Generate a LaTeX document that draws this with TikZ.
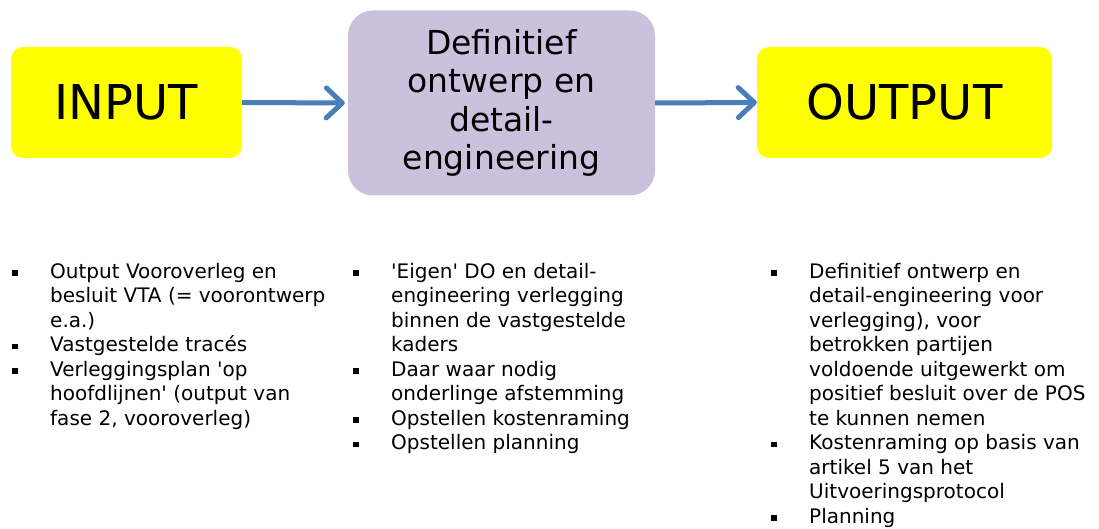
\documentclass[tikz,border=0pt]{standalone}
\usepackage{fontspec}
\newfontfamily\dv{DejaVu Sans}
\usetikzlibrary{arrows.meta}
\definecolor{boxyellow}{RGB}{255,255,0}
\definecolor{boxlav}{RGB}{204,193,220}
\definecolor{arrowblue}{RGB}{74,126,187}
\newcommand\bulitem{\makebox[38pt][l]{\rule[2.5pt]{5.5pt}{5.5pt}}}
\newcommand\indt{\hspace*{38pt}}
\begin{document}
\begin{tikzpicture}[x=1pt,y=-1pt,
  ybox/.style={fill=boxyellow, rounded corners=12pt, minimum width=231pt, minimum height=111pt, inner sep=0pt, font=\dv\fontsize{48}{56}\selectfont},
  pbox/.style={fill=boxlav, rounded corners=25pt, minimum width=307pt, minimum height=185pt, inner sep=0pt, align=center, font=\dv\fontsize{33}{38.5}\selectfont},
  flow/.style={draw=arrowblue, line width=5pt, -{Straight Barb[length=16pt,width=30pt,line cap=round,line join=round]}},
  blist/.style={anchor=base west, align=left, inner sep=0pt, font=\dv\fontsize{20}{24.5}\selectfont}
]
\useasboundingbox (0,0) rectangle (1099,529);
\node[ybox] (in) at (126.5,102.5) {INPUT};
\node[pbox] (def) at (501.5,103) {Definitief\\ontwerp en\\detail-\\engineering};
\node[ybox, minimum width=295pt] (out) at (904.5,102.5) {OUTPUT};
\draw[flow, shorten >=3pt] (in.east) -- (def.west);
\draw[flow] (def.east) -- (out.west);

\node[blist] (l) at (12,425) {\bulitem Output Vooroverleg en\\
\indt besluit VTA (= voorontwerp\\
\indt e.a.)\\
\bulitem Vastgestelde tracés\\
\bulitem Verleggingsplan 'op\\
\indt hoofdlijnen' (output van\\
\indt fase 2, vooroverleg)};

\node[blist] (m) at (353,449.5) {\bulitem 'Eigen' DO en detail-\\
\indt engineering verlegging\\
\indt binnen de vastgestelde\\
\indt kaders\\
\bulitem Daar waar nodig\\
\indt onderlinge afstemming\\
\bulitem Opstellen kostenraming\\
\bulitem Opstellen planning};

\node[blist] (r) at (771,523) {\bulitem Definitief ontwerp en\\
\indt detail-engineering voor\\
\indt verlegging), voor\\
\indt betrokken partijen\\
\indt voldoende uitgewerkt om\\
\indt positief besluit over de POS\\
\indt te kunnen nemen\\
\bulitem Kostenraming op basis van\\
\indt artikel 5 van het\\
\indt Uitvoeringsprotocol\\
\bulitem Planning};
\end{tikzpicture}
\end{document}
